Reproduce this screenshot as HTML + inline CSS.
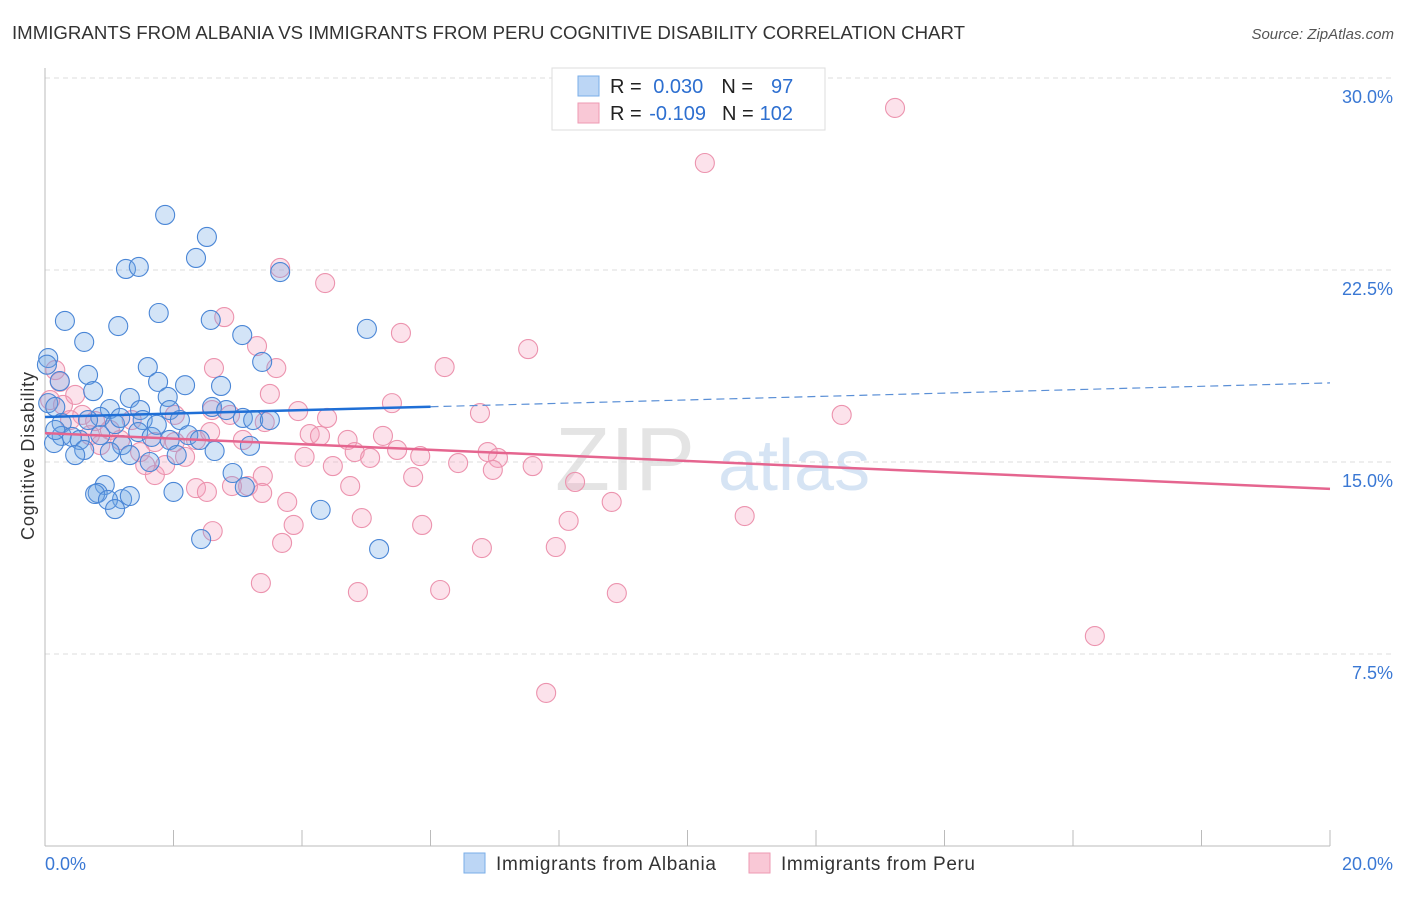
<!DOCTYPE html>
<html><head><meta charset="utf-8"><style>
body{margin:0;background:#fff;font-family:"Liberation Sans",sans-serif}
svg text{font-family:"Liberation Sans",sans-serif}
</style></head><body>
<svg width="1406" height="892" id="svg">
<text x="12" y="39" font-size="18" fill="#333" textLength="953" lengthAdjust="spacingAndGlyphs">IMMIGRANTS FROM ALBANIA VS IMMIGRANTS FROM PERU COGNITIVE DISABILITY CORRELATION CHART</text>
<text x="1394" y="39" font-size="15" fill="#555" text-anchor="end" font-style="italic">Source: ZipAtlas.com</text>
<text x="34" y="456" font-size="18" fill="#333" text-anchor="middle" textLength="168" transform="rotate(-90 34 456)">Cognitive Disability</text>
<g><text x="555" y="490" font-size="90" fill="#e4e4e4" font-family="Liberation Serif">ZIP</text><text x="718" y="490" font-size="72" fill="#d6e4f4">atlas</text></g>
<g id="grid"></g><g id="axes"></g><g id="pts"></g><g id="lines"></g>
<g>
<rect x="552" y="68" width="273" height="62" fill="#fff" stroke="#ddd"/>
<rect x="578" y="76" width="21" height="20" fill="#bcd6f5" stroke="#7aaee8"/>
<rect x="578" y="103" width="21" height="20" fill="#f9c8d6" stroke="#ee9ab3"/>
<text x="610" y="93" font-size="20" fill="#222">R = <tspan fill="#2d6fd0" dx="6">0.030</tspan><tspan fill="#222" dx="18">N =</tspan><tspan fill="#2d6fd0" dx="18">97</tspan></text>
<text x="610" y="120" font-size="20" fill="#222">R = <tspan fill="#2d6fd0" dx="2">-0.109</tspan><tspan fill="#222" dx="16">N =</tspan><tspan fill="#2d6fd0" dx="6">102</tspan></text>
</g>
<g>
<rect x="464" y="853" width="21" height="20" fill="#bcd6f5" stroke="#7aaee8"/>
<text x="496" y="870" font-size="19" fill="#333" textLength="220">Immigrants from Albania</text>
<rect x="749" y="853" width="21" height="20" fill="#f9c8d6" stroke="#ee9ab3"/>
<text x="781" y="870" font-size="19" fill="#333" textLength="194">Immigrants from Peru</text>
</g>
</svg>
<script>
const yTicks=[30,22.5,15,7.5];
const yTickLabels=["30.0%","22.5%","15.0%","7.5%"];
const xTickVals=[0,2,4,6,8,10,12,14,16,18,20];
const albaniaX=[1.87,2.52,2.35,1.26,1.46,3.66,0.31,1.14,1.77,2.58,0.61,3.07,5.01,0.05,1.6,3.38,0.67,1.76,2.18,2.74,0.23,0.75,1.32,1.91,2.6,0.05,0.16,1.01,1.48,1.94,3.08,3.24,0.86,0.67,0.26,1.09,1.52,2.1,2.23,1.45,1.66,0.26,0.42,0.54,0.86,0.14,1.2,1.94,0.61,1.01,1.32,2.05,2.64,3.19,0.47,1.63,2.92,0.93,3.11,0.82,0.78,1.2,1.32,0.98,1.09,2.0,4.29,2.43,5.2,2.82,3.5,1.74,1.17,0.16,0.03,2.41];
const albaniaY=[24.65,23.79,22.97,22.54,22.62,22.42,20.51,20.31,20.82,20.55,19.69,19.96,20.2,19.06,18.71,18.91,18.4,18.13,18.0,17.97,18.16,17.77,17.5,17.54,17.15,17.3,17.15,17.07,17.03,17.03,16.72,16.64,16.76,16.64,16.52,16.48,16.64,16.64,16.05,16.17,15.98,16.02,15.98,15.86,16.05,15.74,15.66,15.86,15.47,15.39,15.27,15.27,15.43,15.63,15.27,15.0,14.57,14.1,14.02,13.79,13.75,13.55,13.67,13.52,13.16,13.83,13.13,11.99,11.6,17.03,16.64,16.45,16.72,16.25,18.8,15.86];
const peruX=[13.23,10.27,3.66,4.36,2.79,5.54,7.52,3.3,2.63,3.6,6.22,0.16,0.23,3.5,5.4,2.6,6.77,12.4,3.94,4.39,3.42,2.88,0.28,0.58,0.78,2.02,4.12,4.28,4.71,5.26,3.08,2.35,2.02,1.17,1.71,4.04,4.48,4.82,5.06,5.48,5.84,6.43,6.89,7.05,6.97,7.59,5.73,8.25,4.75,3.39,3.16,2.91,3.38,2.35,2.52,3.77,8.82,4.93,8.15,10.89,5.87,3.87,2.61,3.69,6.8,7.95,3.36,4.87,6.15,8.9,16.34,7.8,1.71,1.56,1.87,1.48,2.18,1.01,0.86,0.7,0.39,2.57,0.47,0.08,1.35];
const peruY=[28.83,26.68,22.58,21.99,20.66,20.04,19.41,19.53,18.67,18.67,18.71,18.59,18.13,17.66,17.3,17.03,16.91,16.84,16.99,16.72,16.56,16.84,17.23,16.84,16.6,16.84,16.09,16.02,15.86,16.02,15.86,15.86,15.78,15.86,15.78,15.2,14.84,15.39,15.16,15.47,15.23,14.96,15.39,15.16,14.69,14.84,14.41,14.22,14.06,14.45,14.06,14.06,13.79,13.98,13.83,13.44,13.44,12.81,12.7,12.89,12.54,12.54,12.3,11.84,11.64,11.68,10.27,9.92,10.0,9.88,8.2,5.98,14.49,14.88,14.88,15.39,15.2,16.25,15.66,16.05,16.64,16.17,17.62,17.42,16.64];
const albaniaTrend=[16.76,18.09];
const peruTrend=[16.13,13.95];
const NS='http://www.w3.org/2000/svg';
const sx=v=>45+v/20*1285, sy=v=>846-v*25.6;
function mk(t,a,p){const e=document.createElementNS(NS,t);for(const k in a)e.setAttribute(k,a[k]);p.appendChild(e);return e;}
const grid=document.getElementById('grid'),axes=document.getElementById('axes'),pts=document.getElementById('pts'),lines=document.getElementById('lines');
yTicks.forEach((v,i)=>{
 const l=mk('line',{x1:45,x2:1393,y1:sy(v),y2:sy(v),stroke:'#ddd','stroke-dasharray':'5,4'},grid);
 
 
 const t=mk('text',{x:1393,y:sy(v)+25,'font-size':18,fill:'#3a78d4','text-anchor':'end'},grid);
 t.textContent=yTickLabels[i];
 
 
});
const ax=mk('line',{x1:45,x2:1330,y1:846,y2:846,stroke:'#bbb'},axes);


const ay=mk('line',{x1:45,x2:45,y1:68,y2:846,stroke:'#bbb'},axes);


xTickVals.forEach(v=>{const t=mk('line',{x1:sx(v),x2:sx(v),y1:830,y2:846,stroke:'#bbb'},axes);
 
 });
[["0.0%",45,'start'],["20.0%",1393,'end']].forEach(a=>{const t=mk('text',{x:a[1],y:870,'font-size':18,fill:'#3a78d4','text-anchor':a[2]},axes);t.textContent=a[0];
 
 });
peruX.forEach((x,i)=>{const c=mk('circle',{cx:sx(x),cy:sy(peruY[i]),r:9.5,fill:'rgba(244,160,188,0.3)',stroke:'#ec93ae','stroke-width':1.1},pts);
 
 });
albaniaX.forEach((x,i)=>{const c=mk('circle',{cx:sx(x),cy:sy(albaniaY[i]),r:9.5,fill:'rgba(110,165,230,0.3)',stroke:'#4a86d6','stroke-width':1.1},pts);
 
 });
const ya=x=>albaniaTrend[0]+(albaniaTrend[1]-albaniaTrend[0])*x/20;
let l1=mk('line',{x1:sx(0),y1:sy(ya(0)),x2:sx(6),y2:sy(ya(6)),stroke:'#1f6fd6','stroke-width':2.5},lines);


let l2=mk('line',{x1:sx(6),y1:sy(ya(6)),x2:sx(20),y2:sy(ya(20)),stroke:'#5a8fd6','stroke-width':1.2,'stroke-dasharray':'8,5'},lines);


let l3=mk('line',{x1:sx(0),y1:sy(peruTrend[0]),x2:sx(20),y2:sy(peruTrend[1]),stroke:'#e5658f','stroke-width':2.5},lines);


</script>
</body></html>
